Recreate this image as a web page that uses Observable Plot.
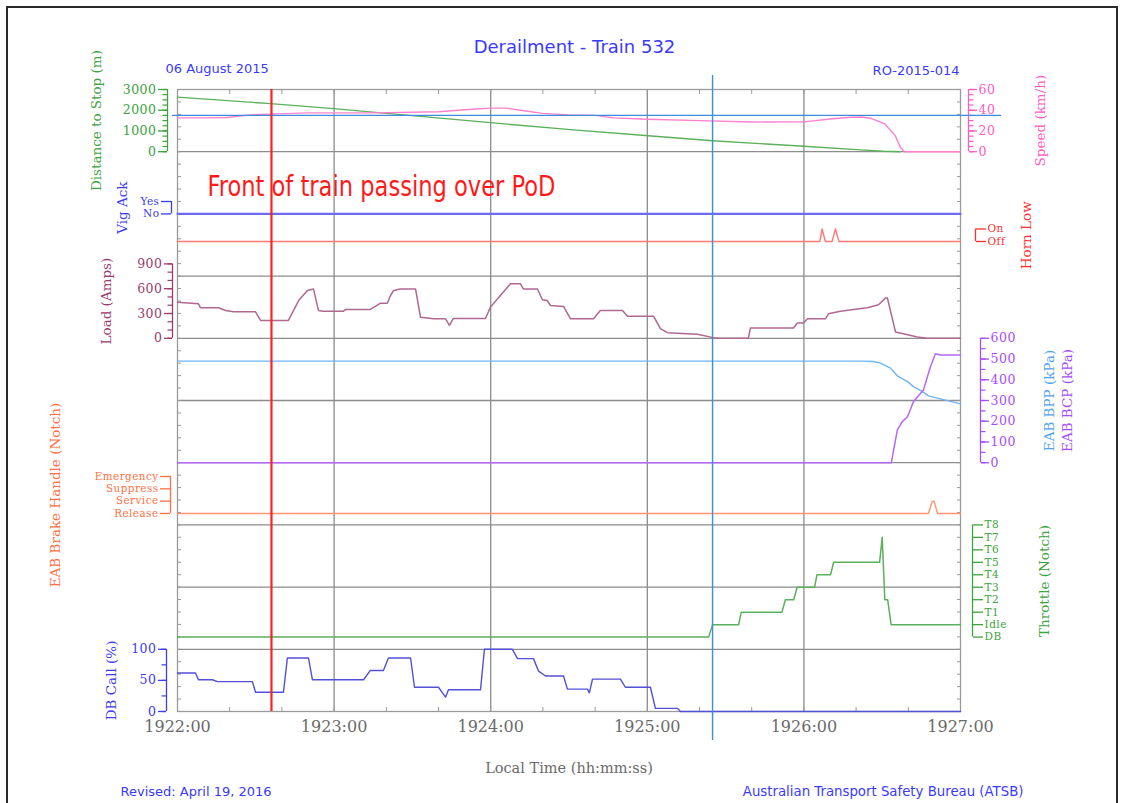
<!DOCTYPE html>
<html><head><meta charset="utf-8">
<script src="https://cdn.jsdelivr.net/npm/d3@7"></script>
<script src="https://cdn.jsdelivr.net/npm/@observablehq/plot@0.6"></script>
<style>
html,body{margin:0;padding:0;background:#fff;}
#chart{position:relative;width:1125px;height:803px;overflow:hidden;background:#fff;}
#chart svg{position:absolute;left:0;top:0;max-width:none;}
#chart svg [aria-label="y-axis tick label"] text{letter-spacing:0.5px;}
#border{position:absolute;left:6px;top:6px;width:1112px;height:820px;border:2px solid #2a2a2a;box-sizing:border-box;}
</style></head><body>
<div id="chart"><div id="border"></div></div>
<script>
// ---------------- DATA (time in seconds after 19:22:00) ----------------
const minuteSeconds = [0, 60, 120, 180, 240, 300];
const minuteLabels = ["1922:00", "1923:00", "1924:00", "1925:00", "1926:00", "1927:00"];
const podTime = [36];          // Front of train passing over PoD
const blueMarkerTime = [205];  // blue marker
const speedLimit = [35];

const distance = [[0,2630],[35.6,2320],[59.8,2080],[119.9,1400],[150.6,1065],[180.4,770],[205,530],[240,260],[261.7,90],[270.5,20],[277,0]];
const speed = [[0,32.6],[10,32.6],[19,33],[28,35.5],[38,36.5],[50,37.5],[75,37.5],[100,38.5],[110,40.5],[120,42],[126,42],[130,40.5],[140,37],[150,35.5],[160,35],[167,32.6],[180,31.3],[200,30],[220,28.7],[240,28.8],[250,31.5],[258,33.2],[262,33.5],[266,32],[271,26.8],[275,15.5],[277,4],[278.5,0],[300,0]];
const vigAck = [[0,0],[300,0]];
const hornLow = [[0,0],[246.1,0],[247,1],[248.2,0],[250.8,0],[252.1,1],[253.4,0],[300,0]];
const load = [[0,437],[8,417],[8.8,370],[15.7,370],[18.4,337],[21.5,320],[29.9,320],[31.8,216],[42.5,216],[46.4,456],[49.8,578],[52.1,597],[54,337],[55.9,328],[63.6,328],[64.4,349],[73.9,349],[77.8,425],[80.4,425],[81.6,518],[82.8,578],[85.4,597],[91.2,597],[93.1,256],[98.1,236],[102.7,236],[104.2,156],[105.7,240],[118,240],[119.9,377],[123.7,518],[127.6,659],[131.4,659],[132.5,597],[137.9,597],[139.8,466],[141.7,456],[142.9,397],[147.9,385],[150.6,236],[159.4,236],[162,337],[170.5,337],[172.4,268],[182.4,268],[185,116],[187.7,68],[199.2,48],[205.3,8],[208,0],[218.7,0],[219.5,124],[236,124],[237.5,184],[239.8,184],[241.4,236],[248.3,236],[249.4,297],[254,328],[259,349],[264.3,370],[268.6,406],[271.2,486],[272,486],[275.1,76],[278.1,56],[283.5,16],[287.3,0],[300,0]];
const bpp = [[0,490],[261.7,490],[266.6,488],[269.3,480],[273.2,456],[275.8,419],[279.7,391],[282,367],[285.4,343],[287.7,322],[292.3,308],[300,284]];
const bcp = [[0,0],[273.5,0],[275.8,158],[277.7,198],[279.7,222],[282,295],[285.8,351],[288.5,464],[290.4,525],[292.3,519],[300,519]];
const brake = [[0,0],[287.7,0],[289.2,1],[289.9,1],[291.2,0],[300,0]];
const throttle = [[0,0],[203.5,0],[205,1],[215,1],[216,2],[231.6,2],[232.9,3],[236.1,3],[237.4,4],[244.1,4],[245,5],[250.2,5],[251.4,6],[269,6],[270,8],[271,3],[272.1,3],[273.4,1],[300,1]];
const dbCall = [[0,62],[6.9,62],[8,51],[13.4,51],[15.3,48],[28.7,48],[29.9,31],[40.6,31],[42.1,86],[50.2,86],[51.7,51],[71.3,51],[73.9,66],[78.9,66],[80.8,86],[89.3,86],[90.8,39],[100,39],[102.7,23],[103.8,35],[116.1,35],[117.6,100],[128.3,100],[130.3,85],[136.4,85],[138.3,65],[141,57],[147.9,57],[149.4,36],[157.1,36],[157.8,30],[159,52],[169.7,52],[171.6,39],[181.2,39],[183.1,5],[191.6,5],[192.7,0],[300,0]];

const vigLabels = ["No", "Yes"];
const hornLabels = ["Off", "On"];
const brakeLabels = ["Release", "Service", "Suppress", "Emergency"];
const throttleLabels = ["DB", "Idle", "T1", "T2", "T3", "T4", "T5", "T6", "T7", "T8"];

// ---------------- LAYOUT / STYLE ----------------
const W = 1125, H = 803, ML = 177, MR = 165, FT = 89, FB = 711;
const SERIF = "DejaVu Serif, Liberation Serif, serif";
const SANS = "DejaVu Sans, Liberation Sans, sans-serif";
const C = {
  green: "#3da33d", greenLine: "#5cb05c", pink: "#ff5cbf", pinkLine: "#ff80cf",
  blue: "#3c3cf0", vigLine: "#6b6bf2", dbLine: "#5050d8", red: "#ff2f2f", hornLine: "#ff7878",
  load: "#9c3c6c", loadLine: "#b06890", bpp: "#4fa3ef", bppLine: "#6fb4f5", bcp: "#a64dff", bcpLine: "#b466ff",
  brake: "#ff6f3f", brakeLine: "#ff9470", grid: "#8c8c8c", marker: "#ff2020", markerBlue: "#3b8ddf", title: "#3a3aff"
};
const X = d => d[0], Y = d => d[1];
const num = d => String(d);

const chartDiv = document.getElementById("chart");
function layer(topPx, bottomPx, ydomain, marks) {
  const svg = Plot.plot({
    width: W, height: H, marginLeft: ML, marginRight: MR, marginTop: topPx, marginBottom: H - bottomPx,
    x: {domain: [0, 300], axis: null},
    y: {domain: ydomain, axis: null},
    style: {background: "transparent", overflow: "visible"},
    marks
  });
  chartDiv.appendChild(svg);
  return svg;
}
function yAxis(anchor, ydomain, ticks, fmt, color, dx, tickSize, minor, fontSize = 12.5) {
  const out = [
    Plot.ruleX([anchor === "left" ? 0 : 300], {y1: ydomain[0], y2: ydomain[1], dx, stroke: color, strokeWidth: 1.3}),
    Plot.axisY({anchor, ticks, tickFormat: fmt, tickSize, tickPadding: 2, dx, stroke: color, fill: color,
      strokeWidth: 1.3, fontFamily: SERIF, fontSize, label: null})
  ];
  if (minor) out.push(Plot.axisY({anchor, ticks: minor, tickSize: 4.5, dx, stroke: color, fill: "none", strokeWidth: 1.2, label: null}));
  return out;
}
function yLabel(text, anchor, centerX, color) {
  return Plot.text([text], {text: d => d, frameAnchor: anchor, textAnchor: "middle", lineAnchor: "middle", rotate: -90,
    dx: centerX - (anchor === "left" ? ML : W - MR), fill: color, fontFamily: SERIF, fontSize: 13.5});
}

// ---------------- FRAME, GRID, TIME AXIS ----------------
layer(FT, FB, [0, 50], [
  Plot.ruleY([5, 10, 15, 20, 25, 30, 35, 40, 45], {stroke: C.grid, strokeWidth: 1.3}),
  Plot.ruleX(minuteSeconds.slice(1, -1), {stroke: C.grid, strokeWidth: 1.3}),
  Plot.frame({stroke: "#9a9a9a", strokeWidth: 1.3}),
  Plot.axisY({anchor: "left", ticks: d3.range(0, 51), tickSize: 4, dx: 4, stroke: "#999", fill: "none", label: null}),
  Plot.axisY({anchor: "right", ticks: d3.range(0, 51), tickSize: 4, dx: -4, stroke: "#999", fill: "none", label: null}),
  Plot.axisX({anchor: "top", ticks: d3.range(0, 301, 20), tickSize: 4, dy: 4, stroke: "#999", fill: "none", label: null}),
  Plot.axisX({anchor: "bottom", ticks: d3.range(0, 301, 20), tickSize: 4, dy: -4, stroke: "#999", fill: "none", label: null}),
  Plot.axisX({anchor: "bottom", ticks: minuteSeconds, tickFormat: d => minuteLabels[minuteSeconds.indexOf(d)],
    tickSize: 0, tickPadding: 9, fill: "#6a6a6a", fontFamily: SERIF, fontSize: 16, label: null}),
  Plot.text(["Local Time (hh:mm:ss)"], {text: d => d, frameAnchor: "bottom", textAnchor: "middle", lineAnchor: "bottom",
    dy: 61, fill: "#6a6a6a", fontFamily: SERIF, fontSize: 14.5}),
  Plot.text(["Derailment - Train 532"], {text: d => d, frameAnchor: "top", textAnchor: "middle", lineAnchor: "bottom",
    dx: 5.5, dy: -37, fill: C.title, fontFamily: SANS, fontSize: 18}),
  Plot.text(["06 August 2015"], {text: d => d, frameAnchor: "top-left", textAnchor: "start", lineAnchor: "bottom",
    dx: -12, dy: -17, fill: C.title, fontFamily: SANS, fontSize: 13}),
  Plot.text(["RO-2015-014"], {text: d => d, frameAnchor: "top-right", textAnchor: "end", lineAnchor: "bottom",
    dx: -1, dy: -15, fill: C.title, fontFamily: SANS, fontSize: 13}),
  Plot.text(["Revised: April 19, 2016"], {text: d => d, frameAnchor: "bottom-left", textAnchor: "start", lineAnchor: "bottom",
    dx: -57, dy: 84.5, fill: C.title, fontFamily: SANS, fontSize: 13}),
  Plot.text(["Australian Transport Safety Bureau (ATSB)"], {text: d => d, frameAnchor: "bottom-right", textAnchor: "end", lineAnchor: "bottom",
    dx: 63, dy: 84.5, fill: C.title, fontFamily: SANS, fontSize: 13.3})
]);

// ---------------- PANELS ----------------
// Distance to stop (left) and speed (right)
layer(89, 151.2, [0, 3000], [
  ...yAxis("left", [0, 3000], [0, 1000, 2000, 3000], num, C.green, -10, 9, d3.range(0, 3001, 250)),
  yLabel("Distance to Stop (m)", "left", 96, C.green),
  Plot.line(distance, {x: X, y: Y, stroke: C.greenLine, strokeWidth: 1.4})
]);
layer(89, 151.2, [0, 60], [
  ...yAxis("right", [0, 60], [0, 20, 40, 60], num, C.pink, 8, 8, d3.range(0, 61, 5)),
  yLabel("Speed (km/h)", "right", 1040, C.pink),
  Plot.line(speed, {x: X, y: Y, stroke: C.pinkLine, strokeWidth: 1.4}),
  Plot.ruleY(speedLimit, {stroke: C.markerBlue, strokeWidth: 1.4, insetLeft: -5, insetRight: -41})
]);
// Vigilance acknowledge
layer(201, 213.4, [0, 1], [
  ...yAxis("left", [0, 1], [0, 1], d => vigLabels[d], C.blue, -6, 10, null, 10.5),
  yLabel("Vig Ack", "left", 122, C.blue),
  Plot.line(vigAck, {x: X, y: Y, stroke: C.vigLine, strokeWidth: 2.2})
]);
// Horn low
layer(228.5, 241, [0, 1], [
  ...yAxis("right", [0, 1], [0, 1], d => hornLabels[d], C.red, 15, 10, null, 10.5),
  yLabel("Horn Low", "right", 1026, C.red),
  Plot.line(hornLow, {x: X, y: Y, stroke: C.hornLine, strokeWidth: 1.4})
]);
// Load
layer(263.4, 337.8, [0, 900], [
  ...yAxis("left", [0, 900], [0, 300, 600, 900], num, C.load, -5, 8, d3.range(0, 901, 100)),
  yLabel("Load (Amps)", "left", 106, C.load),
  Plot.line(load, {x: X, y: Y, stroke: C.loadLine, strokeWidth: 1.5})
]);
// Brake pipe / brake cylinder pressure
layer(337.8, 462.2, [0, 600], [
  ...yAxis("right", [0, 600], d3.range(0, 601, 100), num, C.bcp, 20, 8, d3.range(0, 601, 50)),
  yLabel("EAB BPP (kPa)", "right", 1049, C.bpp),
  yLabel("EAB BCP (kPa)", "right", 1067, C.bcp),
  Plot.line(bpp, {x: X, y: Y, stroke: C.bppLine, strokeWidth: 1.4}),
  Plot.line(bcp, {x: X, y: Y, stroke: C.bcpLine, strokeWidth: 1.5})
]);
// Brake handle
layer(476, 513, [0, 3], [
  ...yAxis("left", [0, 3], [0, 1, 2, 3], d => brakeLabels[d], C.brake, -7, 10, null, 10.3),
  yLabel("EAB Brake Handle (Notch)", "left", 55, C.brake),
  Plot.line(brake, {x: X, y: Y, stroke: C.brakeLine, strokeWidth: 1.4})
]);
// Throttle
layer(524.4, 636.6, [0, 9], [
  ...yAxis("right", [0, 9], d3.range(0, 10), d => throttleLabels[d], C.green, 12, 10, null, 10.5),
  yLabel("Throttle (Notch)", "right", 1044, C.green),
  Plot.line(throttle, {x: X, y: Y, stroke: C.greenLine, strokeWidth: 1.5})
]);
// Dynamic brake call
layer(648.8, 711, [0, 100], [
  ...yAxis("left", [0, 100], [0, 50, 100], num, C.blue, -11, 8, d3.range(0, 101, 25)),
  yLabel("DB Call (%)", "left", 111, C.blue),
  Plot.line(dbCall, {x: X, y: Y, stroke: C.dbLine, strokeWidth: 1.4})
]);

// ---------------- MARKERS & ANNOTATION ----------------
const overlaySvg = layer(FT, FB, [0, 50], [
  Plot.ruleX(blueMarkerTime, {stroke: C.markerBlue, strokeWidth: 1.4, insetTop: -14, insetBottom: -29}),
  Plot.ruleX(podTime, {stroke: C.marker, strokeWidth: 2.2}),
  Plot.text(["Front of train passing over PoD"], {text: d => d, frameAnchor: "top-left", textAnchor: "start", lineAnchor: "bottom",
    dx: 30, dy: 106, fill: "#ff1a1a", fontFamily: "Liberation Sans Narrow, DejaVu Sans Condensed, sans-serif", fontSize: 29})
]);
d3.select(overlaySvg).selectAll("text").filter(function () { return this.textContent === "Front of train passing over PoD"; })
  .attr("textLength", 348).attr("lengthAdjust", "spacingAndGlyphs");
</script>
</body></html>
